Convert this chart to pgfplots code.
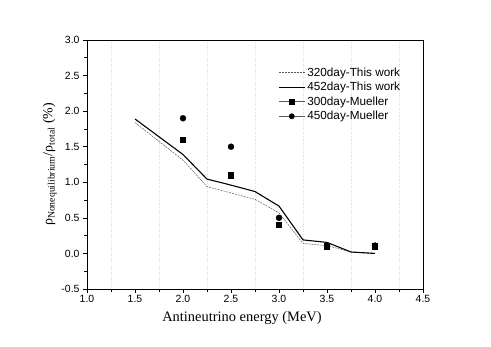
\documentclass[border=0pt]{standalone}
\usepackage{fontspec}
\setmainfont{Liberation Serif}
\newfontfamily\arial{Liberation Sans}
\usepackage{pgfplots}
\pgfplotsset{compat=1.18}
\begin{document}
\begin{tikzpicture}[x=1bp,y=1bp]
\path[use as bounding box] (-87bp,-58bp) rectangle (404bp,289bp);
\begin{axis}[
  at={(0,0)}, anchor=south west,
  scale only axis, width=336bp, height=249bp,
  xmin=1.0, xmax=4.5, ymin=-0.5, ymax=3.0,
  xtick={1.0,1.5,...,4.5}, ytick={-0.5,0,...,3.0},
  minor tick num=1,
  tick align=outside, axis line style={line width=0.9pt},
  major tick length=4bp, minor tick length=2.5bp,
  tick style={black, line width=0.6pt},
  xtick pos=bottom, ytick pos=left,
  minor x grid style={dotted, gray!30, line width=0.4pt},
  xminorgrids=true,
  /pgf/number format/assume math mode=true,
  /pgf/number format/fixed, /pgf/number format/fixed zerofill, /pgf/number format/precision=1,
  ticklabel style={font=\arial\fontsize{10.5}{12}\selectfont},
  xticklabel style={yshift=1bp},
  xlabel={Antineutrino energy (MeV)},
  xlabel style={font=\fontsize{14.5}{16}\selectfont, xshift=-13bp, yshift=-2bp},
  ylabel={ρ\textsubscript{Nonequilibrium}/ρ\textsubscript{total} (\%)},
  ylabel style={font=\fontsize{14}{16}\selectfont, yshift=-2bp},
  legend style={draw=none, fill=none, at={(axis cs:2.99,2.62)}, anchor=north west,
    font=\arial\fontsize{11.8}{13}\selectfont, row sep=3.5bp, inner sep=0pt,
    nodes={inner xsep=2bp, inner ysep=0.5bp}},
  legend cell align=left,
  legend image code/.code={\draw[mark repeat=2,mark phase=2,#1] plot coordinates {(0bp,0bp) (13bp,0bp) (26bp,0bp)};},
]
\addplot[gray!70!black, line width=0.5pt, dash pattern=on 2pt off 1pt] coordinates {
(1.5,1.84) (2.0,1.31) (2.25,0.94) (2.5,0.85) (2.75,0.76) (3.0,0.57) (3.25,0.14) (3.5,0.11) (3.75,0.02) (4.0,0.0)};
\addlegendentry{320day-This work}
\addplot[black, line width=1.1pt] coordinates {
(1.5,1.89) (2.0,1.39) (2.25,1.045) (2.5,0.96) (2.75,0.87) (3.0,0.665) (3.25,0.19) (3.5,0.155) (3.75,0.02) (4.0,0.0)};
\addlegendentry{452day-This work}
\addlegendimage{gray!70!black, line width=0.6pt, mark=square*, mark options={black, solid, scale=1.2}}
\addlegendentry{300day-Mueller}
\addlegendimage{gray!70!black, line width=0.6pt, mark=*, mark options={black, solid, scale=1.3}}
\addlegendentry{450day-Mueller}
\addplot[only marks, mark=square*, mark options={black, scale=1.35}, forget plot] coordinates {
(2.0,1.60) (2.5,1.10) (3.0,0.40) (3.5,0.10) (4.0,0.10)};
\addplot[only marks, mark=*, mark options={black, scale=1.5}, forget plot] coordinates {
(2.0,1.90) (2.5,1.50) (3.0,0.50) (3.5,0.11) (4.0,0.11)};
\end{axis}
\end{tikzpicture}
\end{document}
